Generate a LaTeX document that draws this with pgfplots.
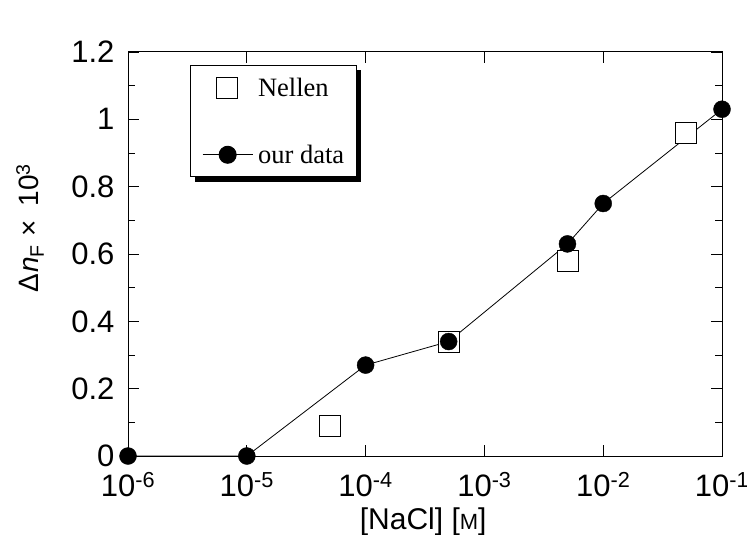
\documentclass[border=0pt]{standalone}
\usepackage{pgfplots}
\pgfplotsset{compat=1.18}
\usepackage{fontspec}
\setmainfont{Liberation Sans}
\newfontfamily\timesfont{Liberation Serif}
\usetikzlibrary{shadows}
\makeatletter
\tikzset{nopre/.code={\let\tikz@preactions\pgfutil@empty}}
\makeatother
\begin{document}
\begin{tikzpicture}
\begin{axis}[
 scale only axis, width=594pt, height=404pt,
 xmode=log, xmin=1e-6, xmax=1e-1, ymin=0, ymax=1.2,
 xtick={1e-6,1e-5,1e-4,1e-3,1e-2,1e-1},
 xticklabels={10\textsuperscript{-6},10\textsuperscript{-5},10\textsuperscript{-4},10\textsuperscript{-3},10\textsuperscript{-2},10\textsuperscript{-1}},
 xminorticks=false,
 ytick={0,0.2,0.4,0.6,0.8,1,1.2}, minor y tick num=1,
 yticklabels={0,0.2,0.4,0.6,0.8,1,1.2},
 tick align=inside, major tick length=11pt, minor tick length=7pt,
 tick style={black, line width=0.8pt},
 axis line style={line width=1pt},
 ticklabel style={font=\fontsize{31}{36}\selectfont},
 xticklabel style={yshift=-13pt},
 yticklabel style={xshift=-10pt},
 xlabel={[NaCl] [{\fontsize{22}{26}\selectfont M}]},
 xlabel style={font=\fontsize{30}{34}\selectfont, at={(axis description cs:0.497,-0.162)}, anchor=center},
 ylabel={Δ\hspace{1pt}\textit{n}\textsubscript{F}\hspace{8pt}×\hspace{14pt}10\textsuperscript{3}},
 ylabel style={font=\fontsize{28}{32}\selectfont, at={(axis description cs:-0.165,0.564)}, anchor=center},
 clip=false,
 legend cell align=left,
 legend style={at={(rel axis cs:0.104,0.969)}, anchor=north west, draw=black, line width=1pt,
   fill=white, font=\timesfont\fontsize{26.5}{30}\selectfont,
   drop shadow={shadow xshift=5pt, shadow yshift=-5pt, fill=black, opacity=1},
   inner xsep=12pt, inner ysep=12pt, row sep=46pt, column sep=5pt,
   nodes={inner sep=0pt}},
]
\addplot[black, line width=0.8pt, forget plot] coordinates {
 (1e-6,0) (1e-5,0) (1e-4,0.27) (5e-4,0.34) (5e-3,0.63) (1e-2,0.75) (1e-1,1.03)};
\addplot[only marks, mark=square*, mark size=10.5pt, mark options={fill=white, draw=black, line width=0.8pt},
  legend image code/.code={\draw[nopre, black, line width=0.8pt, fill=white] (14pt,-10.5pt) rectangle (35pt,10.5pt); \path[nopre, draw=none, fill=none] (0pt,0pt) -- (50pt,0pt);}]
 coordinates {(5e-5,0.09) (5e-4,0.34) (5e-3,0.58) (5e-2,0.96)};
\addlegendentry{Nellen}
\addplot[only marks, mark=*, mark size=8.5pt, black,
  legend image code/.code={\draw[nopre, black, line width=0.8pt] (0pt,0pt) -- (50pt,0pt); \fill[nopre, black] (25pt,0pt) circle (8.5pt);}]
 coordinates {(1e-6,0) (1e-5,0) (1e-4,0.27) (5e-4,0.34) (5e-3,0.63) (1e-2,0.75) (1e-1,1.03)};
\addlegendentry{our data}
\coordinate (bl) at (rel axis cs:-0.2155,-0.1955);
\coordinate (tr) at (rel axis cs:1.042,1.1287);
\end{axis}
\pgfresetboundingbox
\path (bl) rectangle (tr);
\end{tikzpicture}
\end{document}
